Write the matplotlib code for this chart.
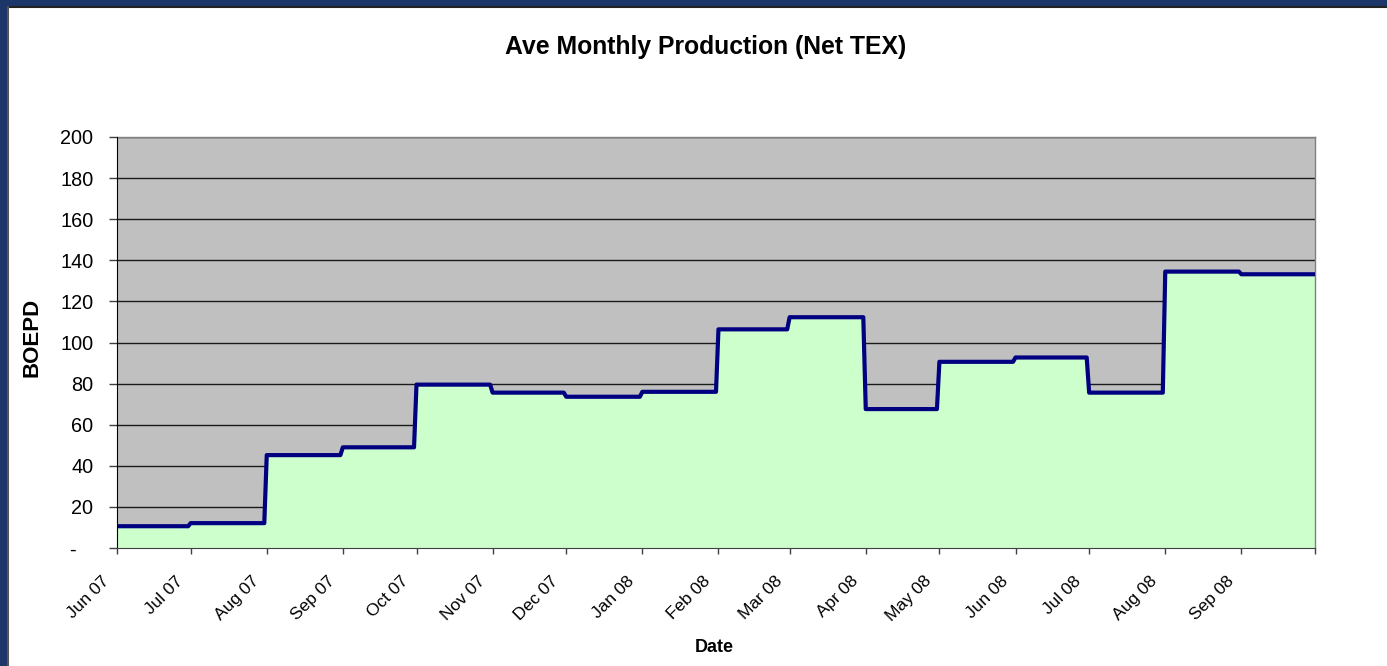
import datetime as dt
import matplotlib
matplotlib.use("Agg")
import matplotlib.pyplot as plt
from matplotlib.patches import Rectangle
from matplotlib.transforms import ScaledTranslation

plt.rcParams['font.family'] = ['Liberation Sans', 'DejaVu Sans']

# monthly averages, BOEPD
months = ["Jun 07", "Jul 07", "Aug 07", "Sep 07", "Oct 07", "Nov 07", "Dec 07", "Jan 08",
          "Feb 08", "Mar 08", "Apr 08", "May 08", "Jun 08", "Jul 08", "Aug 08", "Sep 08"]
boepd = [10.6, 12.1, 45.2, 49.0, 79.5, 75.6, 73.6, 76.0,
         106.4, 112.3, 67.6, 90.6, 92.7, 75.6, 134.5, 133.2]
y_ticks = [0, 20, 40, 60, 80, 100, 120, 140, 160, 180, 200]
y_labels = ["-   "] + [str(v) for v in y_ticks[1:]]

starts = [dt.datetime.strptime("01 " + m, "%d %b %y") for m in months]
end = dt.datetime(2008, 10, 1)
bounds = starts + [end]

# daily series -> value held through the month, jump on the 1st
xs, ys = [], []
for i, v in enumerate(boepd):
    xs.append(bounds[i])
    last = bounds[i + 1] if i == len(boepd) - 1 else bounds[i + 1] - dt.timedelta(days=1)
    xs.append(last)
    ys += [v, v]

fig = plt.figure(figsize=(13.87, 6.66), dpi=100)
fig.patch.set_facecolor("white")
# navy slide frame at top/left
fig.patches.append(Rectangle((0, 1 - 7 / 666), 1, 7 / 666, transform=fig.transFigure,
                             facecolor="#1c3669", edgecolor="none", zorder=-5))
fig.patches.append(Rectangle((0, 0), 8 / 1387, 1, transform=fig.transFigure,
                             facecolor="#1c3669", edgecolor="none", zorder=-5))
fig.lines.append(plt.Line2D([8 / 1387, 1], [1 - 7 / 666, 1 - 7 / 666], transform=fig.transFigure,
                            color="#222222", lw=1.5))
fig.lines.append(plt.Line2D([8 / 1387, 8 / 1387], [0, 1 - 7 / 666], transform=fig.transFigure,
                            color="#555555", lw=1.5))

ax = fig.add_axes([117 / 1387, 1 - 548 / 666, (1315 - 117) / 1387, (548 - 137) / 666])
ax.set_facecolor("#c0c0c0")
ax.fill_between(xs, ys, 0, color="#ccffcc", lw=0, zorder=2)
for yv in y_ticks[1:]:
    ax.axhline(yv, color="#1a1a1a", lw=1, zorder=1)
ax.plot(xs, ys, color="#000080", lw=3, zorder=3, solid_joinstyle="round")

ax.set_xlim(starts[0], end)
ax.set_ylim(0, 200)
ax.set_yticks(y_ticks)
ax.set_yticklabels(y_labels, fontsize=14.3)
ax.set_xticks(bounds)
ax.set_xticklabels(months + [""], rotation=45, ha="right", va="baseline",
                   rotation_mode="anchor", fontsize=12.5)
ax.tick_params(axis="x", length=4.5, width=1, color="#404040", pad=20)
ax.tick_params(axis="y", length=6, width=1, color="#404040", pad=11)
shift = ScaledTranslation(-5 / 72, 0, fig.dpi_scale_trans)
for lab in ax.get_xticklabels():
    lab.set_transform(lab.get_transform() + shift)

for s in ["top", "right"]:
    ax.spines[s].set_color("#808080")
    ax.spines[s].set_linewidth(1)
ax.spines["left"].set_color("#000000")
ax.spines["bottom"].set_color("#404040")
ax.spines["left"].set_zorder(4)
ax.spines["bottom"].set_zorder(4)

fig.text(706 / 1387, 1 - 47 / 666, "Ave Monthly Production (Net TEX)", ha="center", va="center",
         fontsize=17.8, fontweight="bold")
fig.text(714 / 1387, 1 - 647 / 666, "Date", ha="center", va="center", fontsize=13, fontweight="bold")
fig.text(32 / 1387, 1 - 337 / 666, "BOEPD", ha="center", va="center", rotation=90,
         fontsize=16, fontweight="bold")

fig.savefig("out.png", dpi=100)
